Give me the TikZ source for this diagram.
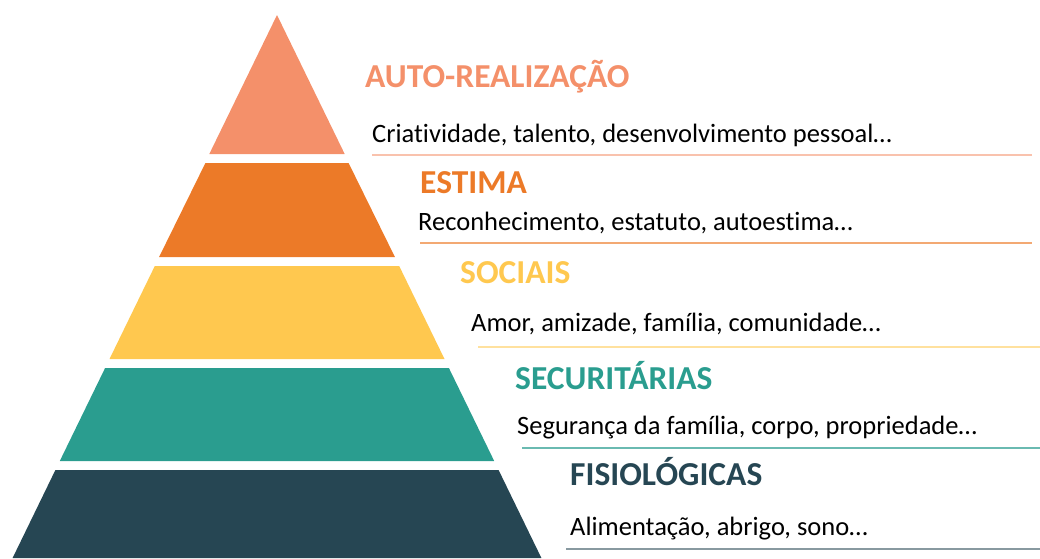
\documentclass[tikz,border=0pt]{standalone}
\usepackage{fontspec}
\setmainfont{Carlito}[Ligatures=NoCommon]
\usepackage{tikz}
\usetikzlibrary{positioning}
\usepackage{xcolor}
\definecolor{selfcol}{HTML}{F4906A}
\definecolor{esteemcol}{HTML}{EC7A28}
\definecolor{socialcol}{HTML}{FFC84F}
\definecolor{safetycol}{HTML}{2A9D8F}
\definecolor{bodycol}{HTML}{264653}
\tikzset{
	x=1pt, y=-1pt,
	level/.style={inner sep=0pt, anchor=base west, font=\fontsize{33.5}{33.5}\selectfont\bfseries},
	need/.style={inner sep=0pt, anchor=base west, font=\fontsize{26.5}{26.5}\selectfont, text=black},
	rule/.style={line width=1.3pt}}

\begin{document}
\begin{tikzpicture}
		\useasboundingbox (0,0) rectangle (1040,558);
		
		%Pyramid
		\fill[selfcol] (277,15) -- (344.7,154) -- (209.3,154) -- cycle;
		\fill[esteemcol] (205.4,163) -- (348.6,163) -- (394.9,257) -- (159.1,257) -- cycle;
		\fill[socialcol] (154.8,266) -- (399.2,266) -- (444.5,359) -- (109.5,359) -- cycle;
		\fill[safetycol] (105.1,368) -- (448.9,368) -- (494.2,461) -- (59.8,461) -- cycle;
		\fill[bodycol] (55.4,470) -- (498.6,470) -- (541.4,558) -- (12.6,558) -- cycle;
		
		%Titles
		\node[level, text=selfcol] (t1) at (365,87) {AUTO-REALIZAÇÃO};
		\node[level, text=esteemcol] (t2) at (420,193) {ESTIMA};
		\node[level, text=socialcol] (t3) at (460,283) {SOCIAIS};
		\node[level, text=safetycol] (t4) at (515,389) {SECURITÁRIAS};
		\node[level, text=bodycol] (t5) at (570,485) {FISIOLÓGICAS};
		
		%Needs
		\node[need] (n1) at (372,142) {Criatividade, talento, desenvolvimento pessoal…};
		\node[need] (n2) at (418,230) {Reconhecimento, estatuto, autoestima…};
		\node[need] (n3) at (471,331) {Amor, amizade, família, comunidade…};
		\node[need] (n4) at (517,434) {Segurança da família, corpo, propriedade…};
		\node[need] (n5) at (570,535) {Alimentação, abrigo, sono…};
		
		%Rules
		\coordinate (r1a) at (372,155);
		\coordinate (r1b) at (1032,155);
		\coordinate (r2a) at (420,243);
		\coordinate (r2b) at (1032,243);
		\coordinate (r3a) at (478,347);
		\coordinate (r3b) at (1040,347);
		\coordinate (r4a) at (522,448);
		\coordinate (r4b) at (1040,448);
		\coordinate (r5a) at (566,549);
		\coordinate (r5b) at (1040,549);
		
		\draw[rule, selfcol!55] (r1a) -- (r1b);
		\draw[rule, esteemcol!65] (r2a) -- (r2b);
		\draw[rule, socialcol!55] (r3a) -- (r3b);
		\draw[rule, safetycol!70] (r4a) -- (r4b);
		\draw[rule, bodycol!55] (r5a) -- (r5b);
	\end{tikzpicture}
\end{document}
